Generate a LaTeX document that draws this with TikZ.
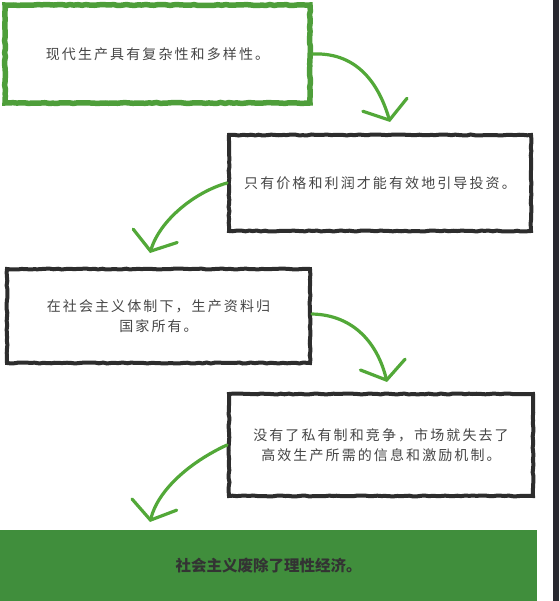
\documentclass[tikz,border=0pt]{standalone}
\usepackage{fontspec}
\usepackage{xcolor}
\usepackage{tikz}
\usetikzlibrary{arrows.meta, decorations.pathmorphing}
\newfontfamily\cjkhand[LetterSpace=15]{Noto Sans CJK SC}
\newfontfamily\cjkbold{Noto Sans CJK SC}
\definecolor{boxgreen}{RGB}{78, 158, 58}
\definecolor{arrowgreen}{RGB}{82, 168, 56}
\definecolor{fillgreen}{RGB}{64, 142, 60}
\definecolor{inkgray}{RGB}{45, 45, 45}
\definecolor{textgray}{RGB}{70, 70, 70}
\definecolor{edgedark}{RGB}{40, 40, 48}

\tikzset{
  roughbox/.style={draw=inkgray, line width=4pt, fill=white, inner sep=0pt,
    decorate, decoration={random steps, segment length=4pt, amplitude=0.5pt},
    font=\cjkhand\fontsize{14}{20}\selectfont, text=textgray, align=center},
  flowarrow/.style={draw=arrowgreen, line width=3.2pt, line cap=round,
    -{Straight Barb[length=16pt, width=46pt, line cap=round]}}
}

\begin{document}
\begin{tikzpicture}[x=1pt, y=-1pt]

\useasboundingbox (0,0) rectangle (559,601);
\fill[edgedark] (553,0) rectangle (559,601);

% Top box: green border
\node[roughbox, draw=boxgreen, line width=5.5pt, minimum width=305pt,
      minimum height=98pt] (modern) at (157.5,54) {现代生产具有复杂性和多样性。};

% Second box
\node[roughbox, minimum width=302pt, minimum height=96pt] (prices) at (380,183)
    {只有价格和利润才能有效地引导投资。};

% Third box
\node[roughbox, minimum width=303pt, minimum height=94pt] (ownership) at (158.5,316)
    {在社会主义体制下，生产资料归\\国家所有。};

% Fourth box
\node[roughbox, minimum width=304pt, minimum height=102pt] (market) at (381,445)
    {没有了私有制和竞争，市场就失去了\\高效生产所需的信息和激励机制。};

% Conclusion bar
\node[fill=fillgreen, minimum width=537pt, minimum height=71pt, inner sep=0pt,
      font=\cjkbold\bfseries\fontsize{15.5}{19}\selectfont, text=black!80]
      (verdict) at (268.5,565.5) {\raisebox{-4pt}{社会主义废除了理性经济。}};

% Arrow tips
\coordinate (tipA) at (390,122);
\coordinate (tipB) at (150,253);
\coordinate (tipC) at (387,382);
\coordinate (tipD) at (150,522);

% Arrows
\draw[flowarrow] (modern.east) .. controls (360,52) and (380,88) .. (tipA);
\draw[flowarrow] (prices.west) .. controls (195,192) and (160,220) .. (tipB);
\draw[flowarrow] ([yshift=2pt]ownership.east) .. controls (355,315) and (378,345) .. (tipC);
\draw[flowarrow] (market.west) .. controls (190,462) and (158,490) .. (tipD);

\end{tikzpicture}
\end{document}
